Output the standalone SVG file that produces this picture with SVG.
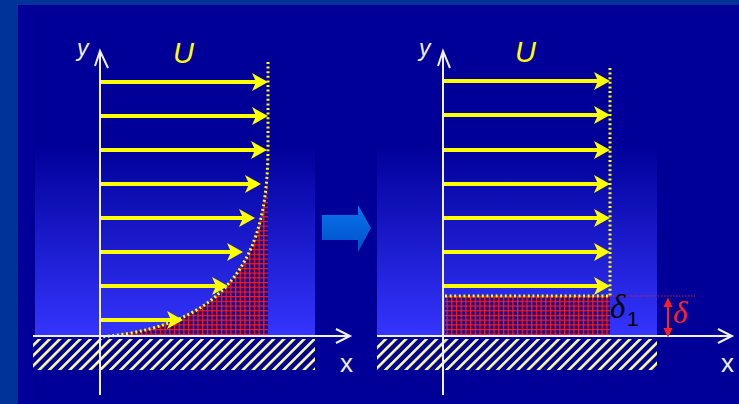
<svg xmlns="http://www.w3.org/2000/svg" width="739" height="404" viewBox="0 0 739 404">
<defs>
<style>
.axis{stroke:#f0f0ff;stroke-width:2;fill:none}
.flow{stroke:#ffff00;stroke-width:4;marker-end:url(#yh)}
.dots{stroke:#ffff00;stroke-width:3;stroke-dasharray:2 2.6;fill:none}
.lbl{font-family:"Liberation Sans",Arial,sans-serif;fill:#f0f0ff}
</style>
<linearGradient id="bg" x1="0" y1="0" x2="0" y2="1">
<stop offset="0" stop-color="#000099"/>
<stop offset="1" stop-color="#3535ff"/>
</linearGradient>
<linearGradient id="ba" x1="0" y1="0" x2="0" y2="1">
<stop offset="0" stop-color="#0a74ee"/>
<stop offset="1" stop-color="#0050c8"/>
</linearGradient>
<pattern id="hatch" width="7.2" height="7.2" patternUnits="userSpaceOnUse" patternTransform="rotate(45)">
<rect width="7.2" height="7.2" fill="#000099"/>
<rect x="0" y="0" width="2.6" height="7.2" fill="#ffff99"/>
</pattern>
<pattern id="grid" width="4.7" height="4.7" patternUnits="userSpaceOnUse">
<rect width="4.7" height="4.7" fill="#1a0a8a"/>
<path d="M0,0.6H4.7M0.6,0V4.7" stroke="#ff1a1a" stroke-width="1.3"/>
</pattern>
<marker id="yh" markerUnits="userSpaceOnUse" markerWidth="18" markerHeight="20" refX="5" refY="9" orient="auto">
<path d="M0,0 L16,9 L0,18 L4,9 z" fill="#ffff00"/>
</marker>
</defs>

<rect width="739" height="404" fill="#003399"/>
<rect x="18" y="5" width="721" height="399" fill="#000099"/>

<g id="left-panel">
<rect x="35" y="145" width="280" height="192" fill="url(#bg)"/>
<rect x="33" y="339" width="282" height="31" fill="url(#hatch)"/>
<path d="M268,145 C268,230 250,325 100,337 L268,337 Z" fill="url(#grid)"/>
<path class="dots" d="M268,62 L268,145 C268,230 250,325 100,337"/>
<line class="axis" x1="33" y1="336" x2="349" y2="336"/>
<polyline class="axis" points="336,329 350,336 336,343"/>
<line class="axis" x1="100" y1="395" x2="100" y2="51"/>
<polyline class="axis" points="95,66 100,51 108,68"/>
<text class="lbl" x="77" y="56" font-size="23" font-style="italic">y</text>
<text class="lbl" x="340" y="372" font-size="26">x</text>
<text x="173" y="63" font-family="Liberation Sans,Arial,sans-serif" font-size="29" font-style="italic" fill="#ffff00">U</text>
</g>

<g id="left-arrows">
<line class="flow" x1="101" y1="82" x2="257" y2="82"/>
<line class="flow" x1="101" y1="116" x2="257" y2="116"/>
<line class="flow" x1="101" y1="150" x2="256" y2="150"/>
<line class="flow" x1="101" y1="184" x2="250" y2="184"/>
<line class="flow" x1="101" y1="218" x2="244" y2="218"/>
<line class="flow" x1="101" y1="252" x2="232" y2="252"/>
<line class="flow" x1="101" y1="286" x2="217" y2="286"/>
<line class="flow" x1="101" y1="320" x2="172" y2="320"/>
</g>

<g id="transition-arrow">
<path d="M322,215 H358 V205 L371,228 L358,252 V240 H322 Z" fill="url(#ba)"/>
</g>

<g id="right-panel">
<rect x="377" y="145" width="280" height="192" fill="url(#bg)"/>
<rect x="377" y="339" width="280" height="31" fill="url(#hatch)"/>
<rect x="445" y="296" width="165" height="40" fill="url(#grid)"/>
<line class="dots" x1="445" y1="296" x2="610" y2="296"/>
<line class="dots" x1="610" y1="68" x2="610" y2="296"/>
<line x1="610" y1="296" x2="695" y2="296" stroke="#ff2020" stroke-width="1" stroke-dasharray="1.5 1.5" opacity="0.8"/>
<line class="axis" x1="377" y1="336" x2="731" y2="336"/>
<polyline class="axis" points="718,329 732,336 718,343"/>
<line class="axis" x1="443" y1="395" x2="443" y2="51"/>
<polyline class="axis" points="438,66 443,51 450,68"/>
<text class="lbl" x="419" y="56" font-size="23" font-style="italic">y</text>
<text class="lbl" x="721" y="372" font-size="26">x</text>
<text x="515" y="62" font-family="Liberation Sans,Arial,sans-serif" font-size="29" font-style="italic" fill="#ffff00">U</text>
<line x1="668" y1="305" x2="668" y2="330" stroke="#ff2020" stroke-width="2"/>
<path d="M663.5,307 L668,297.5 L672.5,307 Z M663.5,328 L668,337.5 L672.5,328 Z" fill="#ff2020"/>
<text x="610" y="318" font-family="Liberation Serif,Times New Roman,serif" font-size="33" font-style="italic" fill="#000000">δ</text>
<text x="627" y="326" font-family="Liberation Sans,Arial,sans-serif" font-size="21" fill="#000000">1</text>
<text x="673" y="323" font-family="Liberation Serif,Times New Roman,serif" font-size="31" font-style="italic" fill="#ff2020">δ</text>
</g>

<g id="right-arrows">
<line class="flow" x1="444" y1="81" x2="599" y2="81"/>
<line class="flow" x1="444" y1="115" x2="599" y2="115"/>
<line class="flow" x1="444" y1="150" x2="599" y2="150"/>
<line class="flow" x1="444" y1="184" x2="599" y2="184"/>
<line class="flow" x1="444" y1="218" x2="599" y2="218"/>
<line class="flow" x1="444" y1="252" x2="599" y2="252"/>
<line class="flow" x1="444" y1="286" x2="599" y2="286"/>
</g>
</svg>
